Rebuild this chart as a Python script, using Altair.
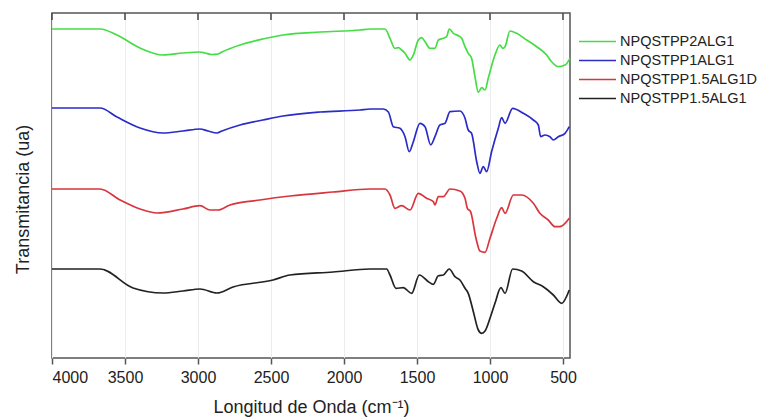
import altair as alt
import pandas as pd

# ---- data (wavenumber cm^-1, transmittance in arbitrary units) ----
green_wn = [4000, 3671, 3555, 3397, 3240, 3103, 2986, 2952, 2904, 2863, 2836, 2712, 2555, 2418, 2164, 1890,
            1822, 1719, 1685, 1651, 1628, 1605, 1582, 1548, 1525, 1491, 1468, 1445, 1411, 1377, 1354, 1320,
            1297, 1279, 1251, 1217, 1194, 1171, 1149, 1126, 1103, 1080, 1057, 1034, 1012, 966, 932, 913, 897,
            863, 817, 749, 680, 612, 578, 532, 486, 452]
green_y = [29, 29, 35, 48, 55, 53, 52, 53, 54.5, 54, 52, 45, 39, 35, 32, 30,
           29, 29, 38.3, 48.3, 47.7, 50, 53.3, 60, 55, 40, 37.7, 41.7, 48.3, 48.3, 40, 38.3,
           36.7, 29, 33.3, 35.7, 38.3, 46.7, 53.3, 58.3, 76.7, 92.3, 87.7, 90, 78.3, 55, 45, 48.3, 46.7,
           31, 33.3, 40, 46.7, 55, 61.7, 66.7, 65, 58.3]

blue_wn = [4000, 3671, 3555, 3397, 3240, 3103, 2986, 2932, 2870, 2836, 2712, 2555, 2418, 2164, 1890,
           1822, 1731, 1696, 1662, 1617, 1582, 1553, 1525, 1480, 1445, 1406, 1377, 1343, 1308, 1274, 1206,
           1171, 1149, 1126, 1091, 1069, 1046, 1023, 989, 943, 920, 897, 845, 772, 703, 669, 653, 623, 589,
           566, 532, 486, 457]
blue_y = [108, 108, 117, 128, 133, 131, 129, 131, 133, 131, 125, 120, 116, 112, 110,
          109, 109, 112, 126.7, 128.3, 136.7, 151.7, 141.7, 123.3, 126.7, 145, 136.7, 125, 123.3, 111.7, 111,
          118.3, 130, 133.3, 161.7, 173.3, 166.7, 171.7, 151.7, 128.3, 117.7, 123.3, 108.3, 113.3, 120, 125,
          136.7, 135, 136.7, 140, 136.7, 133.3, 126.7]

red_wn = [4000, 3671, 3534, 3397, 3281, 3103, 2986, 2918, 2863, 2781, 2575, 2370, 2075,
          1822, 1719, 1685, 1651, 1605, 1548, 1491, 1434, 1388, 1377, 1354, 1320, 1274, 1206, 1171, 1155,
          1133, 1096, 1069, 1034, 1000, 954, 920, 897, 840, 783, 703, 658, 601, 555, 521, 457]
red_y = [189, 189, 200, 209, 213, 209, 205.7, 210, 210, 205, 200, 196, 192,
         189, 189, 195, 208.3, 205.7, 210, 193.3, 198.3, 201.7, 205, 196.7, 196.7, 189, 191, 198.3, 208.3,
         211.7, 238.3, 251, 252.3, 238.3, 218.3, 207.7, 213.3, 195, 195, 203.3, 213.3, 220, 226.7, 226.7, 218.3]

black_wn = [4000, 3671, 3445, 3240, 3103, 2986, 2870, 2760, 2486, 2370, 2075,
            1822, 1708, 1685, 1644, 1594, 1537, 1484, 1422, 1388, 1354, 1320, 1279, 1240, 1206, 1171, 1149,
            1114, 1080, 1057, 1034, 1000, 966, 925, 897, 845, 783, 703, 635, 566, 509, 457]
black_y = [269, 269, 288, 293, 291, 289, 293, 287, 280, 275, 272,
           269, 269, 275, 288.3, 287.7, 293.3, 275, 281.7, 284.3, 275.7, 275, 269, 276.7, 280, 288.3, 293.3,
           311.7, 330, 333.3, 331, 318.3, 303.3, 287.7, 293.3, 269, 271, 281.7, 286.7, 295, 303.3, 290]

series_names = ["NPQSTPP2ALG1", "NPQSTPP1ALG1", "NPQSTPP1.5ALG1D", "NPQSTPP1.5ALG1"]
series_colors = ["#44dd44", "#2b2bc8", "#d8353d", "#222222"]
major_ticks = [4000, 3500, 3000, 2500, 2000, 1500, 1000, 500]
all_ticks = [4000, 3750, 3500, 3250, 3000, 2750, 2500, 2250, 2000, 1750, 1500, 1250, 1000, 750, 500]

# transmittance value (larger = higher on the chart)
def to_t(vals):
    return [358 - v for v in vals]

frames = []
for name, wn, yy in zip(series_names, [green_wn, blue_wn, red_wn, black_wn],
                        [green_y, blue_y, red_y, black_y]):
    frames.append(pd.DataFrame({"wn": wn, "T": to_t(yy), "serie": name,
                                "ord": list(range(len(wn)))}))
df = pd.concat(frames, ignore_index=True)

FONT = "Liberation Sans"
xscale = alt.Scale(domain=[452, 4000], reverse=True, nice=False, zero=False)

lines = alt.Chart(df).mark_line(strokeWidth=1.7, interpolate="monotone").encode(
    x=alt.X("wn:Q", scale=xscale,
            axis=alt.Axis(values=all_ticks, format="d", title="Longitud de Onda (cm⁻¹)",
                          labelExpr="datum.value % 500 == 0 ? datum.label : ''",
                          tickSize={"condition": {"test": "datum.value % 500 == 0", "value": 6}, "value": 3},
                          gridOpacity={"condition": {"test": "datum.value % 500 == 0", "value": 1}, "value": 0},
                          grid=True, gridColor="#ececec", gridWidth=1,
                          domain=False, tickColor="#555", tickWidth=1.5,
                          labelFont=FONT, labelFontSize=16, labelColor="#222", labelPadding=5,
                          titleFont=FONT, titleFontSize=18, titleFontWeight="normal", titleColor="#222",
                          titlePadding=13)),
    y=alt.Y("T:Q", scale=alt.Scale(domain=[0, 345], nice=False),
            axis=alt.Axis(title="Transmitancia (ua)", labels=False, ticks=False, domain=False, grid=False,
                          titleFont=FONT, titleFontSize=18, titleFontWeight="normal", titleColor="#222",
                          titlePadding=20, titleY=186)),
    color=alt.Color("serie:N", scale=alt.Scale(domain=series_names, range=series_colors),
                    legend=alt.Legend(title=None, orient="none", legendX=526, legendY=21,
                                      symbolType="stroke", symbolSize=1369, symbolStrokeWidth=1.6,
                                      labelFont=FONT, labelFontSize=14.5, labelColor="#222",
                                      clipHeight=15, rowPadding=3, labelOffset=3)),
    order="ord:Q",
    detail="serie:N",
)

top_ticks = alt.Chart(pd.DataFrame({"t": major_ticks})).mark_rule(color="#444", strokeWidth=1.5).encode(
    x=alt.X("t:Q", scale=xscale),
    y=alt.value(0), y2=alt.value(7),
)

chart = alt.layer(lines, top_ticks).properties(
    width=518, height=345,
    autosize=alt.AutoSizeParams(type="none"),
    padding={"left": 52, "top": 13, "right": 195, "bottom": 61},
    background="white",
).configure_view(stroke="#555", strokeWidth=1.5)

chart.save("out.html", embed_options={"renderer": "svg", "actions": False})
